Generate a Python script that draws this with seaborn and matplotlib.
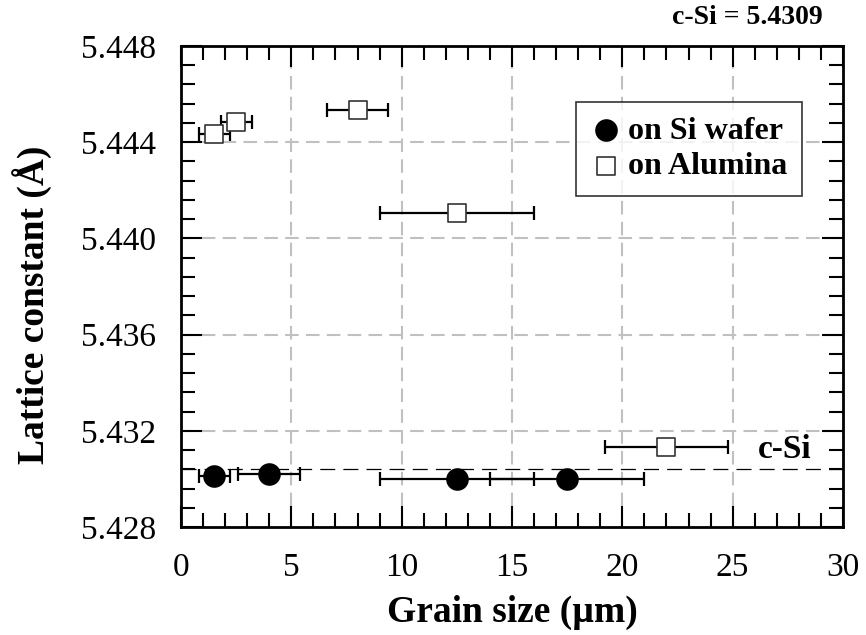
import matplotlib
matplotlib.use("Agg")
import matplotlib.pyplot as plt
import seaborn as sns
import pandas as pd
import numpy as np
from matplotlib.ticker import MultipleLocator, FormatStrFormatter

# Data
si_grain = [1.5, 4.0, 12.5, 17.5]
si_grain_err = [0.7, 1.4, 3.5, 3.5]
si_lattice = [5.43011, 5.43021, 5.43001, 5.43001]

al_grain = [1.5, 2.5, 8.0, 12.5, 22.0]
al_grain_err = [0.7, 0.7, 1.4, 3.5, 2.8]
al_lattice = [5.44433, 5.44483, 5.44533, 5.44105, 5.43132]

csi_line = 5.4304
series_labels = ["on Si wafer", "on Alumina"]

sns.set_theme(style="white")
plt.rcParams['font.family'] = ['Liberation Serif', 'DejaVu Serif']
plt.rcParams['text.color'] = 'black'
plt.rcParams['axes.labelcolor'] = 'black'
plt.rcParams['xtick.color'] = 'black'
plt.rcParams['ytick.color'] = 'black'

fig = plt.figure(figsize=(8.66, 6.35), dpi=100)
ax = fig.add_axes([0.209, 0.170, 0.9734 - 0.209, 0.9276 - 0.170])

df_si = pd.DataFrame({"x": si_grain, "y": si_lattice, "xerr": si_grain_err})
df_al = pd.DataFrame({"x": al_grain, "y": al_lattice, "xerr": al_grain_err})

# grid
for gx in [5, 10, 15, 20, 25]:
    ax.axvline(gx, color="#c0c0c0", lw=1.5, dashes=(6.5, 3.5), zorder=0)
for gy in [5.432, 5.436, 5.440, 5.444]:
    ax.axhline(gy, color="#c0c0c0", lw=1.5, dashes=(6.5, 3.5), zorder=0)

ax.axhline(csi_line, color="black", lw=0.9, dashes=(12, 6.5), zorder=1)

ax.errorbar(df_si["x"], df_si["y"], xerr=df_si["xerr"], fmt="none",
            ecolor="black", elinewidth=1.6, capsize=5, capthick=1.6, zorder=2)
ax.errorbar(df_al["x"], df_al["y"], xerr=df_al["xerr"], fmt="none",
            ecolor="black", elinewidth=1.6, capsize=5, capthick=1.6, zorder=2)

sns.scatterplot(data=df_si, x="x", y="y", ax=ax, marker="o", s=265,
                color="black", edgecolor="black", linewidth=0, zorder=3,
                label=series_labels[0])
sns.scatterplot(data=df_al, x="x", y="y", ax=ax, marker="s", s=185,
                facecolor="white", edgecolor="#333333", linewidth=1.2, zorder=3,
                label=series_labels[1])

ax.set_xlim(0, 30)
ax.set_ylim(5.428, 5.448)
ax.xaxis.set_major_locator(MultipleLocator(5))
ax.xaxis.set_minor_locator(MultipleLocator(1))
ax.yaxis.set_major_locator(MultipleLocator(0.004))
ax.yaxis.set_minor_locator(MultipleLocator(0.0008))
ax.yaxis.set_major_formatter(FormatStrFormatter("%.3f"))

ax.tick_params(which="both", direction="in", top=True, right=True,
               bottom=True, left=True, colors="black", width=1.5)
ax.tick_params(which="major", length=15, labelsize=24)
ax.tick_params(axis="x", which="major", pad=18)
ax.tick_params(axis="y", which="major", pad=18)
ax.tick_params(which="minor", length=10)
for s in ax.spines.values():
    s.set_color("black")
    s.set_linewidth(2)

ax.set_xlabel("Grain size (µm)", fontsize=27, fontweight="bold")
ax.set_ylabel("Lattice constant (Å)", fontsize=27, fontweight="bold")
ax.xaxis.set_label_coords(0.5, -0.14)
ax.yaxis.set_label_coords(-0.195, 0.462)

leg = ax.legend(loc="upper right", bbox_to_anchor=(0.938, 0.884), frameon=True,
                fancybox=False, edgecolor="black", handletextpad=0.2,
                borderpad=0.45, labelspacing=0.2, handlelength=1.0,
                borderaxespad=0.0,
                prop={"family": "Liberation Serif", "weight": "bold", "size": 23})
leg.get_frame().set_linewidth(1.2)

ax.text(0.953, 5.43085, "c-Si", transform=ax.get_yaxis_transform(),
        ha="right", va="baseline", fontsize=24, fontweight="bold")
fig.text(0.950, 0.972, "c-Si = 5.4309", ha="right", va="center",
         fontsize=20, fontweight="bold")

fig.savefig("out.png", dpi=100)
